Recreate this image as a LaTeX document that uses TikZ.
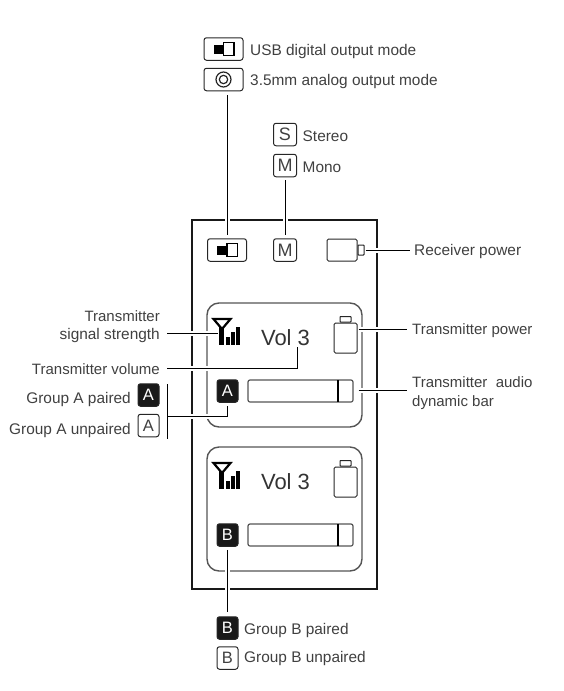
\documentclass[tikz,border=0pt]{standalone}
\usepackage{fontspec}
\setmainfont{Liberation Sans}
\definecolor{inkgray}{HTML}{404040}
\definecolor{edgegray}{HTML}{555555}
\begin{document}
\begin{tikzpicture}[
  x=1pt, y=-1pt,
  lbl/.style={text=inkgray, inner sep=0pt, font=\fontsize{15.4}{18.5}\selectfont},
  txlbl/.style={lbl, font=\fontsize{15}{18.5}\selectfont},
  keybox/.style={rectangle, draw=black!85, line width=1pt, rounded corners=2.5pt, inner sep=0pt, text=inkgray, font=\fontsize{18}{18}\selectfont},
  letterkey/.style={keybox, minimum width=23pt, minimum height=22.5pt},
  widekey/.style={keybox, minimum width=39pt, minimum height=22.5pt},
  badge/.style={letterkey, minimum width=21pt, fill=black!90, text=white, font=\fontsize{16.5}{16.5}\selectfont},
  plainbadge/.style={letterkey, minimum width=21pt, font=\fontsize{16.5}{16.5}\selectfont},
  panelbox/.style={rectangle, draw=edgegray, line width=1.4pt, rounded corners=12pt, minimum width=155pt, minimum height=124pt, inner sep=0pt},
  batbox/.style={rectangle, draw=black!85, line width=1pt, rounded corners=1.5pt, inner sep=0pt},
  nubbox/.style={rectangle, draw=black!85, line width=1pt, rounded corners=0.6pt, inner sep=0pt},
  barbox/.style={rectangle, draw=edgegray, line width=1.2pt, rounded corners=2pt, minimum width=105pt, minimum height=22pt, inner sep=0pt},
  leader/.style={draw=black, line width=1pt, preaction={draw=white, line width=5pt}},
  usbglyph/.pic={
    \fill[black] (-10,-4.5) rectangle (0,4.5);
    \draw[black, line width=1.3pt] (0,-6.5) rectangle (10.5,6.5);
  },
]
  \useasboundingbox (0,0) rectangle (563,691);

  % outer device
  \node[rectangle, draw=black!90, line width=2pt, minimum width=185pt, minimum height=369pt, inner sep=0pt] (device) at (284.5,404.5) {};

  % the top legend
  \node[widekey] (usbmode) at (223.5,49) {};
  \pic at (usbmode) {usbglyph};
  \node[widekey] (jackmode) at (223.5,79.5) {};
  \node[lbl, anchor=west] (usbtext) at (250,52) {USB digital output mode};
  \node[lbl, anchor=west] (jacktext) at (250,82) {3.5mm analog output mode};
  \draw[black!85, line width=1.2pt] (jackmode.center) circle (7.5) (jackmode.center) circle (4.2);

  \node[letterkey] (stereokey) at (285,134.5) {S};
  \node[letterkey] (monokey) at (285,165.5) {M};
  \node[lbl, anchor=west] (stereotext) at (302.5,136) {Stereo};
  \node[lbl, anchor=west] (monotext) at (302.5,167) {Mono};

  % top row of the device
  \node[widekey] (usbicon) at (227,250) {};
  \pic at (usbicon) {usbglyph};
  \node[letterkey] (monoicon) at (285,250) {M};
  \node[batbox, minimum width=30pt, minimum height=22pt] (rxbat) at (342,250) {};
  \node[nubbox, anchor=west, minimum width=6pt, minimum height=10pt] (rxnub) at (rxbat.east) {};
  \node[lbl, anchor=west] (rxtext) at (414,252) {Receiver power};
  \coordinate (rxlead) at (410,250);

  % both transmitter panels
  \foreach \g/\dy in {A/0,B/144}{
    \node[panelbox] (panel\g) at (284.5,{365+\dy}) {};
    \node[batbox, minimum width=23pt, minimum height=30pt] (txbat\g) at (345.5,{338+\dy}) {};
    \node[nubbox, anchor=south, minimum width=11pt, minimum height=5.5pt] (txnub\g) at (txbat\g.north) {};
    \node[barbox] (bar\g) at (300.5,{391+\dy}) {};
    \draw[black, line width=1.4pt] (338,{380+\dy}) -- (338,{402+\dy});
    \node[font=\fontsize{22}{22}\selectfont, text=black!80, inner sep=0pt] (vol\g) at (285.5,{338+\dy}) {Vol 3};
    \node[badge] (group\g) at (227.5,{391+\dy}) {\g};
    % antenna and signal bars
    \node[rectangle, fill=black, minimum width=5pt, minimum height=18pt, inner sep=0pt] (stem\g) at (221.5,{336+\dy}) {};
    \draw[black, line width=2.2pt, line join=miter] (213.5,{319+\dy}) -- (230.5,{319+\dy}) -- (222,{329+\dy}) -- cycle;
    \fill[black] (225.5,{337+\dy}) rectangle (229.5,{345+\dy});
    \fill[black] (230.5,{332+\dy}) rectangle (234.5,{345+\dy});
    \fill[black] (235.5,{327+\dy}) rectangle (240,{345+\dy});
  }

  % left labels
  \node[txlbl, anchor=east] (signaltop) at (160,316) {Transmitter};
  \node[lbl, anchor=east] (signaltext) at (160,335.5) {signal strength};
  \node[txlbl, anchor=east] (voltext) at (160,369) {Transmitter volume};
  \coordinate (signallead) at (167,333);
  \coordinate (vollead) at (167,368);
  \coordinate (volend) at (297,347);
  \node[badge] (pairedA) at (148.5,395) {A};
  \node[plainbadge] (unpairedA) at (148.5,425.5) {A};
  \node[lbl, anchor=east] (pairedAtext) at (131,400) {Group A paired};
  \node[lbl, anchor=east] (unpairedAtext) at (131,431) {Group A unpaired};
  \coordinate (brackettop) at (167,384);
  \coordinate (bracketmid) at (167,416);
  \coordinate (bracketend) at (167,439);

  % right labels
  \node[txlbl, anchor=west] (powertext) at (412,331) {Transmitter power};
  \node[txlbl, anchor=west, align=left] (audiotext) at (412,393) {Transmitter\ \ audio\\dynamic bar};
  \coordinate (powerlead) at (407,329);
  \coordinate (audiolead) at (407,390);

  % bottom legend
  \node[badge] (pairedB) at (227.5,628) {B};
  \node[plainbadge] (unpairedB) at (227.5,658) {B};
  \node[lbl, anchor=west] (pairedBtext) at (244,631) {Group B paired};
  \node[lbl, anchor=west] (unpairedBtext) at (244,659) {Group B unpaired};

  % connectors
  \draw[leader, shorten <=4pt, shorten >=3pt] (jackmode.south -| usbicon.north) -- (usbicon.north);
  \draw[leader, shorten <=3pt, shorten >=3pt] (monokey) -- (monoicon);
  \draw[leader, shorten <=1pt] (rxnub.east) -- (rxlead);
  \draw[leader, shorten >=1pt] (signallead) -- (signallead -| stemA.west);
  \draw[leader] (vollead) -| (volend);
  \draw[leader, shorten >=3pt] (bracketmid) -| (groupA.south);
  \draw[draw=black, line width=1pt] (brackettop) -- (bracketend);
  \draw[leader, shorten <=1pt] (powerlead -| txbatA.east) -- (powerlead);
  \draw[leader, shorten <=5pt] (audiolead -| barA.east) -- (audiolead);
  \draw[leader, shorten <=3pt, shorten >=4pt] (groupB) -- (pairedB);
\end{tikzpicture}
\end{document}
